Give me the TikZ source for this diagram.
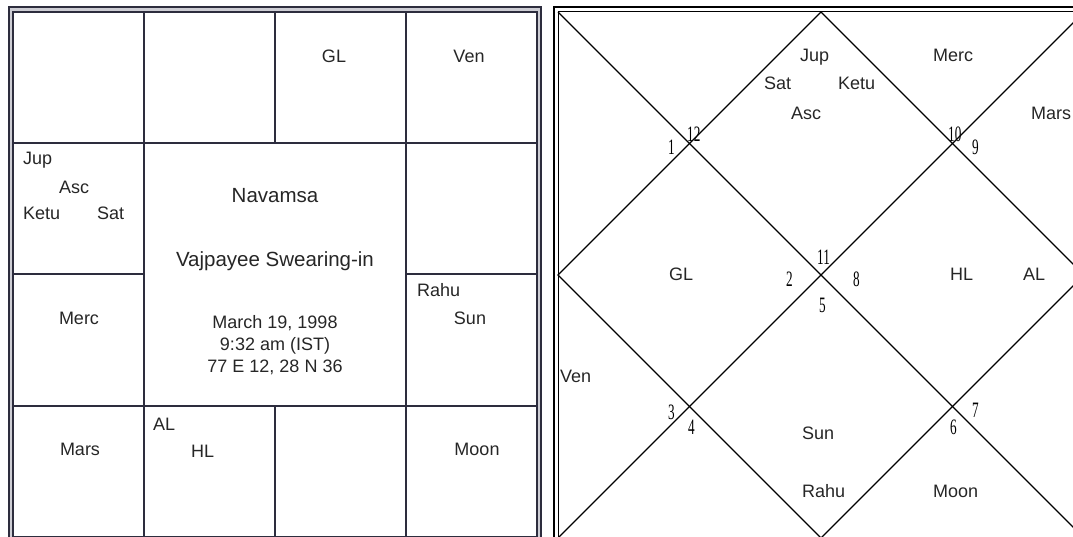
\documentclass[tikz,border=0pt]{standalone}
\usepackage{fontspec}
\setmainfont{Liberation Sans}
\newfontfamily\numfont[FakeStretch=0.6]{Liberation Serif}
\definecolor{chartline}{RGB}{45,45,62}
\definecolor{gapgray}{RGB}{205,205,212}

\begin{document}
\begin{tikzpicture}[x=1pt, y=-1pt,
  pl/.style={inner sep=0pt, text=black!85, font=\fontsize{18}{18}\selectfont},
  ttl/.style={inner sep=0pt, text=black!85, font=\fontsize{20.5}{20.5}\selectfont},
  num/.style={inner sep=0pt, anchor=base west, font=\numfont\fontsize{22}{22}\selectfont}]

\useasboundingbox (0,0) rectangle (1073,537);

% south style chart
\draw[gapgray, line width=3] (11,9.5) rectangle (539,539);
\draw[chartline, line width=2.2] (9,7) rectangle (541,541);
\draw[chartline, line width=1.4] (13,12) rectangle (537,537);
\draw[chartline, line width=2]
  (144,12) -- (144,537) (406,12) -- (406,537)
  (275,12) -- (275,143) (275,406) -- (275,537)
  (13,143) -- (537,143) (13,406) -- (537,406)
  (13,274) -- (144,274) (406,274) -- (537,274);

\node[pl, anchor=base] (sgl) at (334,63) {GL};
\node[pl, anchor=base] (sven) at (469,63) {Ven};
\node[pl, anchor=base west] (sjup) at (23,165) {Jup};
\node[pl, anchor=base west] (sasc) at (59,194) {Asc};
\node[pl, anchor=base west] (sketu) at (23,220) {Ketu};
\node[pl, anchor=base west] (ssat) at (97,220) {Sat};
\node[pl, anchor=base] (smerc) at (79,324) {Merc};
\node[pl, anchor=base] (smars) at (80,455) {Mars};
\node[pl, anchor=base west] (sal) at (153,430) {AL};
\node[pl, anchor=base west] (shl) at (191,457) {HL};
\node[pl, anchor=base west] (srahu) at (417,297) {Rahu};
\node[pl, anchor=base] (ssun) at (470,324) {Sun};
\node[pl, anchor=base] (smoon) at (477,455) {Moon};

\node[ttl, anchor=base] (title) at (275,203) {Navamsa};
\node[ttl, anchor=base] (event) at (275,267) {Vajpayee Swearing-in};
\node[pl, anchor=base] (date) at (275,328) {March 19, 1998};
\node[pl, anchor=base] (time) at (275,350) {9:32 am (IST)};
\node[pl, anchor=base] (place) at (275,372) {77 E 12, 28 N 36};

% north style chart
\coordinate (ntop) at (821,12);
\coordinate (nright) at (1084,275);
\coordinate (nbot) at (821,538);
\coordinate (nleft) at (558,275);
\draw[line width=2.2] (554,7) rectangle (1088,541);
\draw[line width=1] (558,12) rectangle (1084,538);
\draw[line width=1.3] (558,12) -- (1084,538) (1084,12) -- (558,538);
\draw[line width=1.3] (ntop) -- (nright) -- (nbot) -- (nleft) -- cycle;

\node[pl, anchor=base west] (njup) at (800,62) {Jup};
\node[pl, anchor=base west] (nsat) at (764,90) {Sat};
\node[pl, anchor=base west] (nketu) at (838,90) {Ketu};
\node[pl, anchor=base west] (nasc) at (791,120) {Asc};
\node[pl, anchor=base west] (nmerc) at (933,62) {Merc};
\node[pl, anchor=base west] (nmars) at (1031,120) {Mars};
\node[pl, anchor=base west] (ngl) at (669,280) {GL};
\node[pl, anchor=base west] (nhl) at (950,280) {HL};
\node[pl, anchor=base west] (nal) at (1023,280) {AL};
\node[pl, anchor=base west] (nven) at (560,382) {Ven};
\node[pl, anchor=base west] (nsun) at (802,439) {Sun};
\node[pl, anchor=base west] (nrahu) at (802,497) {Rahu};
\node[pl, anchor=base west] (nmoon) at (933,497) {Moon};

\node[num] (h12) at (687,142) {12};
\node[num] (h1) at (668,155) {1};
\node[num] (h10) at (948,142) {10};
\node[num] (h9) at (972,155) {9};
\node[num] (h11) at (817,265) {11};
\node[num] (h2) at (786,287) {2};
\node[num] (h8) at (853,287) {8};
\node[num] (h5) at (819,312) {5};
\node[num] (h3) at (668,419) {3};
\node[num] (h4) at (688,434) {4};
\node[num] (h7) at (972,417) {7};
\node[num] (h6) at (950,434) {6};

\end{tikzpicture}
\end{document}
